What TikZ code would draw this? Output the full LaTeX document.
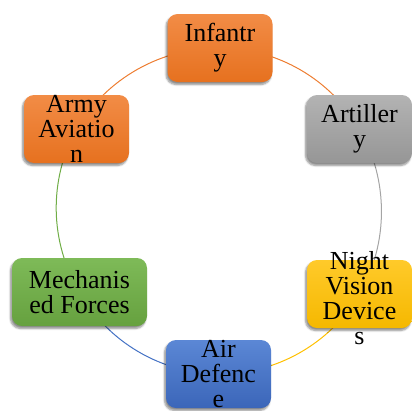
\documentclass[tikz,border=0pt]{standalone}
\usepackage{fontspec}
\setmainfont{Liberation Serif}
\usetikzlibrary{shadows.blur}
\pgfdeclarelayer{bg}
\pgfsetlayers{bg,main}
\definecolor{orT}{HTML}{F28C46}
\definecolor{orB}{HTML}{E6711F}
\definecolor{orL}{HTML}{ED7D31}
\definecolor{grT}{HTML}{B3B3B3}
\definecolor{grB}{HTML}{969696}
\definecolor{grL}{HTML}{A5A5A5}
\definecolor{goT}{HTML}{FFCA2A}
\definecolor{goB}{HTML}{F5B800}
\definecolor{goL}{HTML}{FFC000}
\definecolor{blT}{HTML}{5B87D5}
\definecolor{blB}{HTML}{3B66B9}
\definecolor{blL}{HTML}{4472C4}
\definecolor{gnT}{HTML}{7EBA58}
\definecolor{gnB}{HTML}{66A13F}
\definecolor{gnL}{HTML}{70AD47}
\tikzset{
  box/.style={rounded corners=10pt, minimum width=105pt, minimum height=68pt, inner sep=0pt,
    blur shadow={shadow xshift=-1.5pt, shadow yshift=-2.5pt, shadow blur steps=6, shadow opacity=45}},
  lbl/.style={align=center, inner sep=0pt, font=\fontsize{26}{25}\selectfont},
  ring/.style={line width=1pt, bend left=30, looseness=0.91},
  orbox/.style={box, top color=orT, bottom color=orB},
  grbox/.style={box, top color=grT, bottom color=grB},
  gobox/.style={box, top color=goT, bottom color=goB},
  blbox/.style={box, top color=blT, bottom color=blB},
  gnbox/.style={box, top color=gnT, bottom color=gnB},
}
\begin{document}
\begin{tikzpicture}[x=1pt,y=-1pt]
\useasboundingbox (0,0) rectangle (412,410);
\node[orbox] (inf) at (220,48) {};
\node[grbox] (art) at (359.5,129) {};
\node[gobox] (nvd) at (359.5,294) {};
\node[blbox] (air) at (218.5,374) {};
\node[gnbox, minimum width=135pt] (mech) at (79.5,292) {};
\node[orbox] (avi) at (76.5,129) {};
\node[lbl] (inf-t) at (inf.center) {Infantr\\y};
\node[lbl] (art-t) at (art.center) {Artiller\\y};
\node[lbl] (nvd-t) at ([yshift=-4pt]nvd.center) {Night\\Vision\\Device\\s};
\node[lbl] (air-t) at (air.center) {Air\\Defenc\\e};
\node[lbl] (mech-t) at (mech.center) {Mechanis\\ed Forces};
\node[lbl] (avi-t) at (avi.center) {Army\\Aviatio\\n};
\begin{pgfonlayer}{bg}
\draw[ring, orL] (inf.center) to (art.center);
\draw[ring, grL] (art.center) to (nvd.center);
\draw[ring, goL] (nvd.center) to (air.center);
\draw[ring, blL] (air.center) to (mech.center);
\draw[ring, gnL] (mech.center) to (avi.center);
\draw[ring, orL] (avi.center) to (inf.center);
\end{pgfonlayer}
\end{tikzpicture}
\end{document}
